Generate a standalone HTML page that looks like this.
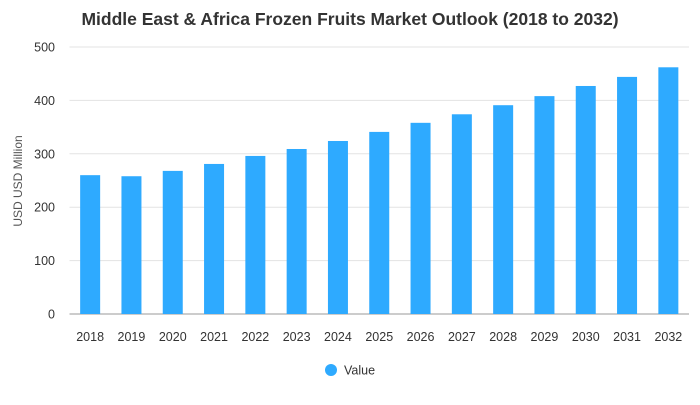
<!DOCTYPE html>
<html><head><meta charset="utf-8"><style>
body{margin:0;background:#fff;font-family:"Liberation Sans",Arial,sans-serif;}
svg text{font-family:"Liberation Sans",Arial,sans-serif;}
</style></head><body>
<svg id="chart" width="700" height="400">
<text x="350" y="25" text-anchor="middle" font-size="17.5" font-weight="bold" fill="#333">Middle East &amp; Africa Frozen Fruits Market Outlook (2018 to 2032)</text>
<text transform="translate(22,181) rotate(-90)" text-anchor="middle" font-size="12" fill="#555">USD USD Million</text>
<g id="grid"></g><g id="bars"></g><g id="xlabels"></g>
<g>
<circle cx="331" cy="370" r="6" fill="#2eaaff"></circle>
<text x="344" y="374.5" font-size="12.5" fill="#333">Value</text>
</g>
</svg>
<script>
const categories=["2018","2019","2020","2021","2022","2023","2024","2025","2026","2027","2028","2029","2030","2031","2032"];
const values=[260,258,268,281,296,309,324,341,358,374,391,408,427,444,462];
const yTicks=[0,100,200,300,400,500];
const ns="http://www.w3.org/2000/svg";
const plotLeft=69.5,plotRight=689,plotTop=47,plotBottom=314,yMax=500;
const yScale=v=>plotBottom-(v/yMax)*(plotBottom-plotTop);
const step=(plotRight-plotLeft)/categories.length;
const xScale=i=>plotLeft+step*(i+0.5);
function mk(t,a,p){const e=document.createElementNS(ns,t);for(const k in a)e.setAttribute(k,a[k]);p.appendChild(e);return e;}
const g=document.getElementById('grid');
yTicks.forEach(t=>{
 const l=mk('line',{x1:plotLeft,x2:plotRight,y1:yScale(t),y2:yScale(t),stroke:t===0?'#999':'#e3e3e3','stroke-width':1},g);
 
 
 const tx=mk('text',{x:55,y:yScale(t)+4.5,'text-anchor':'end','font-size':12.5,fill:'#333'},g);
 tx.textContent=t;
 
 
});
const b=document.getElementById('bars'),xl=document.getElementById('xlabels');
categories.forEach((c,i)=>{
 const r=mk('rect',{x:xScale(i)-10,y:yScale(values[i]),width:20,height:plotBottom-yScale(values[i]),fill:'#2eaaff'},b);
 
 
 const t=mk('text',{x:xScale(i),y:341,'text-anchor':'middle','font-size':12.5,fill:'#333'},xl);
 t.textContent=c;
 
 
});
</script>
</body></html>
